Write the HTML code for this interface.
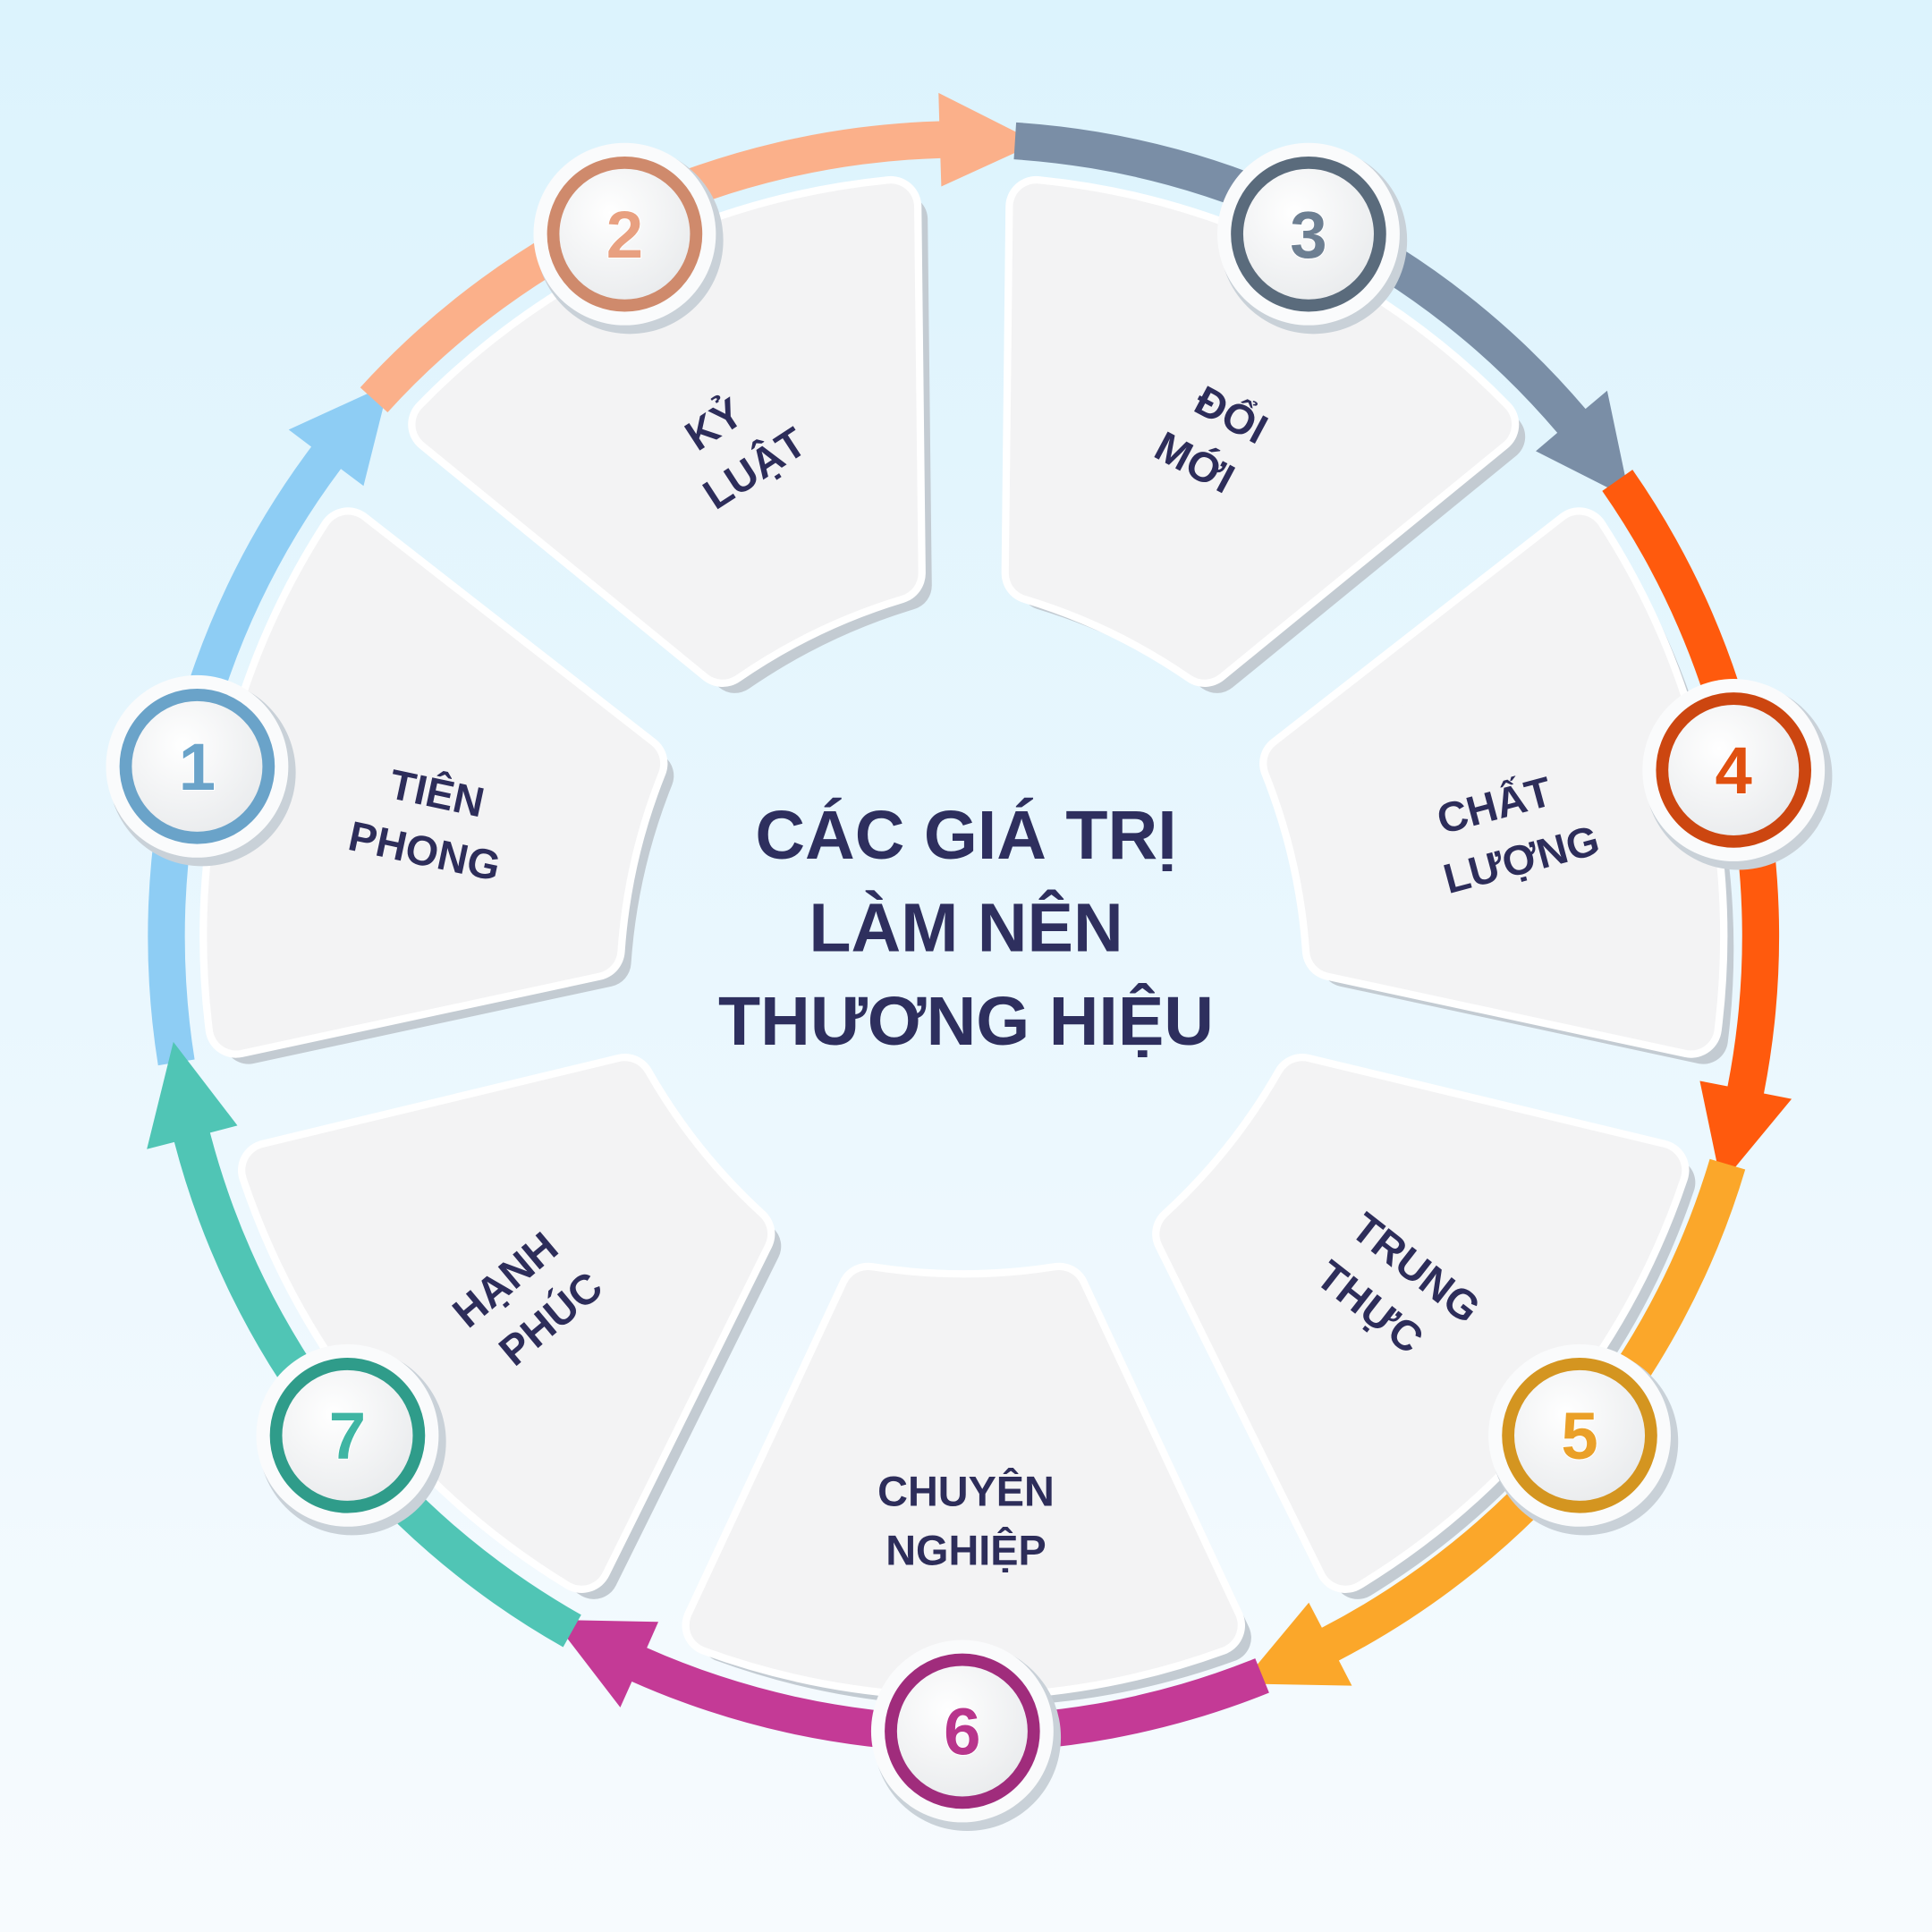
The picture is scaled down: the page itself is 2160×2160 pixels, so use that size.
<!DOCTYPE html>
<html><head><meta charset="utf-8"><style>
html,body{margin:0;padding:0;}
body{width:2160px;height:2160px;overflow:hidden;background:linear-gradient(#dcf3fd,#f7fbfe);}
svg{display:block;}
.lbl{font-family:"Liberation Sans","DejaVu Sans",sans-serif;font-weight:bold;font-size:34px;fill:#2d2d5a;text-anchor:middle;}
.ttl{font-family:"Liberation Sans","DejaVu Sans",sans-serif;font-weight:bold;font-size:56px;fill:#2e2f5e;text-anchor:middle;}
.num{font-family:"Liberation Sans","DejaVu Sans",sans-serif;font-weight:bold;font-size:54px;text-anchor:middle;stroke:#fff;stroke-width:1.5;paint-order:stroke;}
</style></head><body>
<svg width="2160" height="2160" viewBox="0 0 1568 1568" xmlns="http://www.w3.org/2000/svg">
<defs>
<path id="seg" d="M 613.8 -248 A 662 662 0 0 1 604.7 269.2 L 625.7 278.6 L 554.6 333.2 L 556.3 247.7 L 577.3 257 A 632 632 0 0 0 586 -236.7 Z"/>
<path id="card" d="M 289.8 -77.6 L 559.1 -203.5 A 595 595 0 0 1 559.1 203.5 L 289.8 77.6 A 500 500 0 0 0 289.8 -77.6 Z"/>
<radialGradient id="dg" cx="0.4" cy="0.35" r="0.7"><stop offset="0" stop-color="#ffffff"/><stop offset="1" stop-color="#e8eaec"/></radialGradient>
</defs>

<g transform="translate(782,760)">
<use href="#seg" fill="#8ecdf4" transform="rotate(192.9)"/>
<use href="#seg" fill="#fbb08a" transform="rotate(244.3)"/>
<use href="#seg" fill="#7a8ea6" transform="rotate(295.7)"/>
<use href="#seg" fill="#ff5a0d" transform="rotate(347.1)"/>
<use href="#seg" fill="#fba72a" transform="rotate(38.6)"/>
<use href="#seg" fill="#c43a96" transform="rotate(90)"/>
<use href="#seg" fill="#50c5b5" transform="rotate(141.4)"/>
</g>

<g transform="translate(792,770)" fill="#c3cbd2" stroke="#c3cbd2" stroke-width="40" stroke-linejoin="round">
<use href="#card" transform="rotate(192.9)"/><use href="#card" transform="rotate(244.3)"/><use href="#card" transform="rotate(295.7)"/>
<use href="#card" transform="rotate(347.1)"/><use href="#card" transform="rotate(38.6)"/><use href="#card" transform="rotate(90)"/><use href="#card" transform="rotate(141.4)"/>
</g>
<g transform="translate(782,760)" fill="#fff" stroke="#fff" stroke-width="50" stroke-linejoin="round">
<use href="#card" transform="rotate(192.9)"/><use href="#card" transform="rotate(244.3)"/><use href="#card" transform="rotate(295.7)"/>
<use href="#card" transform="rotate(347.1)"/><use href="#card" transform="rotate(38.6)"/><use href="#card" transform="rotate(90)"/><use href="#card" transform="rotate(141.4)"/>
</g>
<g transform="translate(782,760)" fill="#f3f3f4" stroke="#f3f3f4" stroke-width="38" stroke-linejoin="round">
<use href="#card" transform="rotate(192.9)"/><use href="#card" transform="rotate(244.3)"/><use href="#card" transform="rotate(295.7)"/>
<use href="#card" transform="rotate(347.1)"/><use href="#card" transform="rotate(38.6)"/><use href="#card" transform="rotate(90)"/><use href="#card" transform="rotate(141.4)"/>
</g>

<g class="lbl">
<text transform="translate(350,665) rotate(12)"><tspan x="0" y="-10">TIÊN</tspan><tspan x="0" y="38">PHONG</tspan></text>
<text transform="translate(598,358) rotate(-33)"><tspan x="-8" y="-10">KỶ</tspan><tspan x="0" y="38">LUẬT</tspan></text>
<text transform="translate(982,352) rotate(28)"><tspan x="8" y="-10">ĐỔI</tspan><tspan x="0" y="38">MỚI</tspan></text>
<text transform="translate(1228,672) rotate(-15)"><tspan x="-10" y="-10">CHẤT</tspan><tspan x="0" y="38">LƯỢNG</tspan></text>
<text transform="translate(1128,1040) rotate(38)"><tspan x="10" y="-10">TRUNG</tspan><tspan x="0" y="38">THỰC</tspan></text>
<text transform="translate(784,1232)"><tspan x="0" y="-10">CHUYÊN</tspan><tspan x="0" y="38">NGHIỆP</tspan></text>
<text transform="translate(430,1050) rotate(-40)"><tspan x="-8" y="-10">HẠNH</tspan><tspan x="0" y="38">PHÚC</tspan></text>
</g>

<text class="ttl" x="784" y="697">CÁC GIÁ TRỊ</text>
<text class="ttl" x="784" y="772">LÀM NÊN</text>
<text class="ttl" x="784" y="848">THƯƠNG HIỆU</text>

<g>
<g transform="translate(160,622)"><circle r="76" fill="#c9d1d8" cx="4" cy="5"/><circle r="74" fill="#fafbfc"/><circle r="58" fill="url(#dg)" stroke="#6aa3c9" stroke-width="10"/><text class="num" y="19" fill="#6aa3c9">1</text></g>
<g transform="translate(507,190)"><circle r="76" fill="#c9d1d8" cx="4" cy="5"/><circle r="74" fill="#fafbfc"/><circle r="58" fill="url(#dg)" stroke="#cf8a6c" stroke-width="10"/><text class="num" y="19" fill="#e8a080">2</text></g>
<g transform="translate(1062,190)"><circle r="76" fill="#c9d1d8" cx="4" cy="5"/><circle r="74" fill="#fafbfc"/><circle r="58" fill="url(#dg)" stroke="#5a6b7c" stroke-width="10"/><text class="num" y="19" fill="#6d7f92">3</text></g>
<g transform="translate(1407,625)"><circle r="76" fill="#c9d1d8" cx="4" cy="5"/><circle r="74" fill="#fafbfc"/><circle r="58" fill="url(#dg)" stroke="#cc4610" stroke-width="10"/><text class="num" y="19" fill="#e0500f">4</text></g>
<g transform="translate(1282,1165)"><circle r="76" fill="#c9d1d8" cx="4" cy="5"/><circle r="74" fill="#fafbfc"/><circle r="58" fill="url(#dg)" stroke="#d49520" stroke-width="10"/><text class="num" y="19" fill="#eaa028">5</text></g>
<g transform="translate(781,1405)"><circle r="76" fill="#c9d1d8" cx="4" cy="5"/><circle r="74" fill="#fafbfc"/><circle r="58" fill="url(#dg)" stroke="#a02c7c" stroke-width="10"/><text class="num" y="19" fill="#b8358c">6</text></g>
<g transform="translate(282,1165)"><circle r="76" fill="#c9d1d8" cx="4" cy="5"/><circle r="74" fill="#fafbfc"/><circle r="58" fill="url(#dg)" stroke="#2f9c8a" stroke-width="10"/><text class="num" y="19" fill="#3fb5a3">7</text></g>
</g>
</svg>
</body></html>
